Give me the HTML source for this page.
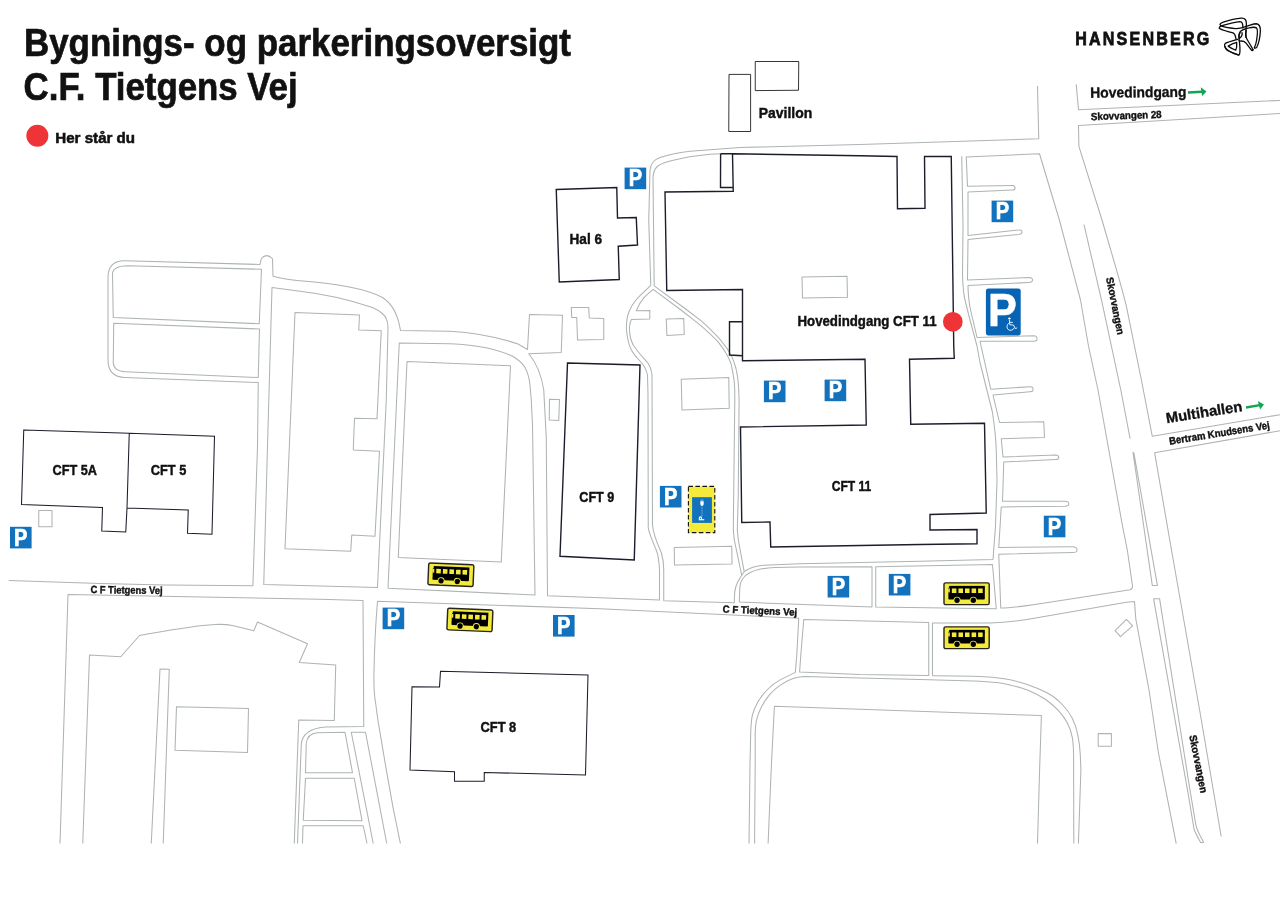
<!DOCTYPE html>
<html lang="da"><head><meta charset="utf-8"><title>Bygnings- og parkeringsoversigt C.F. Tietgens Vej</title>
<style>html,body{margin:0;padding:0;background:#fff}svg{display:block;will-change:transform}text{font-family:"Liberation Sans",Arial,sans-serif;font-weight:bold;fill:#111}text.w{fill:#fff}</style></head><body>
<svg width="1280" height="905" viewBox="0 0 1280 905">
<rect width="1280" height="905" fill="#fff"/>
<g fill="none" stroke="#aeb3b3" stroke-width="1.05" stroke-linejoin="round">
<path d="M8.75,580.4 L100,583.6 L165,585.1 L225,585.6 L252.9,585.7 L257.5,446 L258.25,382.5 L125,377.5 Q108,377 108,360 L108,277.5 Q108,260.5 125,260.75 L260,264.5 L261.25,258.75 Q266.5,252.5 272.5,258.75 L273,276.25 Q285,279.5 300,280.75 C330,283 365,288 382.5,297.5 C393,304 398,315 400.5,330.5 L450,331.25 C480,333 500,338 517.5,343.75 L527.5,349.5 L529.5,314.5 L562.5,315.25 L561.25,352.5 L528.75,353.75 C538,365 542,378 543.75,390 L546.25,437.5 L547.5,595.75 L659.5,600 L659.5,570 C659,560 657.5,553 656.25,550 C652,540 648.5,532 648.25,527.5 L648,395 L647.5,375 C646,368 643.5,365 641.25,362.5 C636,357 633,353 631.4,350 C629.5,346 628.5,343 627.9,339.5 C627,335 626.4,331 626.4,327.6 C626.5,323 626.8,320 627.4,316.7 C628.5,312 630,309 631.9,305.7 C634,302 637,298.5 639.8,295.8 L650.75,285.3 L648.75,220 L650,170 C651,162 655,159.5 660,157.5 C670,154 680,152.5 690,151.25 L740,147.5 L860,144.5 L1038.75,138.75 L1037.5,86"/>
<path d="M112.5,273.75 Q113,266 127.5,265.75 L261.5,269.25 L259.25,323.75 L113.25,317.5 Z"/>
<path d="M113.75,323.25 L259.5,329 L258.25,377.5 L125,371.75 Q113.5,371 113.25,362.5 Z"/>
<path d="M272,287.5 L300,291.25 C320,293.5 350,300 372.5,307.5 C380,311 385,315 386.25,318.75 Q388,322 388,327.5 L386.25,400 L377.5,587.5 L263.75,584.5 L267.5,446 Z"/>
<path d="M295,312.5 L359.5,315 L358.75,330 L381.25,330.75 L377,418.75 L354.5,418.25 L353.25,450 L379.5,451.25 L375,536.25 L351.75,535 L350.75,551.25 L285,548.75 Z"/>
<path d="M399.25,343 L450,343.75 C470,344.5 480,346.5 487.5,348 C500,351 507,353.5 512.5,356.25 C519,360 523,364 525,367.5 C528,373 529.5,380 530,385 L531.25,400 L532.5,425 L535,595 L388,588.25 L394.5,446 Z"/>
<path d="M407,361.5 L510.5,365.75 L501.25,562 L398.25,557.5 Z"/>
<path d="M571.25,307.5 L588.75,307.5 L589.25,318 L603.75,318.5 L603.75,339.5 L577.5,340 L576.75,317.5 L571.75,317.5 Z"/>
<path d="M549.5,399.25 L559.5,399.5 L558.75,420.5 L549.25,420 Z"/>
<path d="M38.75,510.5 L52,510.5 L52,526.75 L38.75,526.75 Z"/>
<path d="M60,843.5 L68,594.5 L320,599.25 L363,600.5 L363.75,726.5 L325,727 Q302,729 301.25,745 L297.5,843.5"/>
<path d="M82.75,843.5 L89.5,655 L120.75,656.75 L139.5,635.5 C165,631 190,626 215,624.5 Q225,624 232.5,625.5 L253.75,630.75 L257.5,622 L307.5,643.75 L299.25,662.5 L335.75,665 L334.25,720.5 L298.75,720 L294.25,843.5"/>
<path d="M151.25,843.5 L160,669 L169.25,669.25 L163.25,843.5"/>
<path d="M176.5,706.75 L248.5,708.5 L247.5,752.5 L175,750.25 Z"/>
<path d="M305.5,772.75 L306.25,744 Q307,733.5 317.5,732.75 L345,732.25 L352.5,772.75 Z"/>
<path d="M305.5,778.25 L354.25,778.25 L362,820.75 L303.25,820.25 Z"/>
<path d="M302.5,843.5 L303,825.75 L363.25,825.75 L367,843.5"/>
<path d="M373.25,843.5 L351.25,732.25 L365.5,732.25 L386.75,843.5"/>
<path d="M400.4,843.5 L393.2,808.4 L386,768.2 L380.2,733.7 C378.5,724 377,715 375.9,705 C374.5,698 373.8,690 373.9,676.2 C374.3,650 375.5,625 377.5,601.25 L600,608.75 L798.75,618.25 L796.8,655 L795.3,672.4 L780.1,679.9 C775.5,682.5 771.5,685.5 768,689 C764,693 761,697 758.2,701.2 C755.5,706 753.5,710.5 752.2,715.8 C751.2,721 750.9,727 750.7,732.8 L750,765 L749,843.5"/>
<path d="M653.2,289.3 C650,292 646.5,295 643.8,297.8 C641,301 638.5,305 636.3,310.7 L649.8,310.4 L649.8,319.1 L631.4,319.6 Q629.6,323 629.4,327.6 C629.4,332 630,336 630.9,339.5 C632,343.5 634,347 636.8,350 C640,354.5 644,358.5 647.5,362.5 C650,366 651.5,370 652,375 L652.5,525 C653,532 657,543 661.25,552.5 C663,558 663.75,565 663.75,570 L663.75,600.75 L734.3,602.8 C734.3,597 734.5,594 734.8,591.6 C735.5,587 736.5,584 737.8,581.7 L741.7,575.2 L734.3,540 L733.3,530 L734.2,450 L734.8,400 L734.7,387.5 C734.5,383 734,379 733.2,374.6 C732.5,370.5 731.8,366.5 730.7,362.7 C729.5,359.5 727.8,356 725.7,352.7 C724,349.5 721.5,346 718.8,342.8 C715.5,339 711.5,335.5 707.8,331.9 C704,328 699.5,324.5 694.9,320.9 L681,310 L653.2,289.3 Z"/>
<path d="M720.6,153.75 C700,154.5 690,156.5 680,158.75 C668,161 661,163.5 657.5,166.25 Q653.5,170 653,177.5 L654.2,285.8 L687,310 L699.9,319.9 C705,324 709,328 712.8,331.9 C716.5,335.5 720,339 722.7,342.8 C725.5,346 728,349.5 729.7,352.7 C731.8,356 733.2,359.5 734.2,362.7 C735.6,366.5 736.6,370.5 737.2,374.6 C738,379 738.4,383 738.6,387.5 L739.1,400 L738.25,496 L737.3,530 L738.3,540 L744.2,571.7"/>
<path d="M741.7,575.2 L744.2,571.7 C746,570 749,569 751.7,567.8 C755,566.5 760,565.8 763.6,565.3 L800,563.8 L920,561.25 L993,559.5 L995.5,526 L997,480 L996.25,450 C996,440 995,430 992.5,412.5 L980,362.5 L977,346 L970,320 L965,300 C964,296 963,290 962.5,275 L963,225 L961.75,156.25"/>
<path d="M739.3,602.1 L739.8,587.7 C740,584 741,581 742.7,578.7 C744.5,576 747,574 749.7,572.7 C753,571 756,570 759.6,569.3 C765,568.3 770,567.8 774.6,567.6 L800,567 L872,566.75 L872,607 Z"/>
<path d="M875.75,566.75 L992.5,564.5 L996.25,608.75 L875.75,607 Z"/>
<path d="M966.25,157 L1039.5,153.75 L1059.4,220 L1080.5,300 L1088.5,346 L1098,390 L1122.5,526 L1127.3,550 L1132.4,585 Q1133,589 1130.1,589.8 L1040,603.7 C1025,606 1012,608 1000.75,608 L998.75,554.25 L1072.5,552.5 Q1077.5,552.5 1077,550 Q1077,546.75 1072.5,546.75 L998.75,547.5 L1001.25,507 L1065,506.25 Q1069,506 1068.75,503.75 Q1068.75,501.25 1065,501.25 L1002.5,501.25 L1003.75,462 L1055.5,459.5 Q1059,459.5 1058.75,457.5 Q1058.75,455 1055.5,455 L1003,457 L1001.25,438.75 L1044.5,437.5 L1043.75,421.75 L999.5,422.5 L993,395 L1030,391.75 Q1033.5,391.5 1033,389.25 Q1033,386.5 1030,386.75 L990.75,389.25 L980,341.25 L1033.75,341.25 Q1037.5,341 1037,338.75 Q1037,335.75 1033.75,335.75 L977,337.5 L970,307.5 Q968,295 968,285.5 L1028.75,282.5 Q1032.5,282.5 1032.5,280 Q1032.5,277.5 1028.75,277.5 L967.5,280 L968,239.5 L1018.75,234.5 Q1022,234 1022,232 Q1022,229.5 1018.75,230 L968,235.5 L968,192 L1012.5,190 Q1015.5,190 1015,188 Q1015,185.5 1012.5,185.5 L967.5,186.25 Z"/>
<path d="M932.5,675.7 L932.5,623 L990,623 C1010,622.5 1025,620 1040,617.2 L1126.4,602.3 L1134.5,601.6 L1135.8,618.9 L1149,690 L1158.3,752 L1176.2,843.6"/>
<path d="M932.5,675.7 L973.4,676.3 L980,676.4 C990,676.8 997,677.6 1004.3,678.8 C1013,680.3 1021,682.3 1028.6,684.9 C1035,687 1041,689.7 1046.9,692.8 C1053,696 1058,700 1062.7,705 C1066.5,709 1069.8,713.5 1072.4,718.4 C1075,723.5 1076.7,729 1077.9,735.4 C1079.2,742 1079.9,748 1080.3,754.8 L1080.9,770 L1078.4,843.6"/>
<path d="M754.6,843.6 L755.2,765 L755.2,732.8 C755.3,728 755.7,724 756.4,720.7 C757.5,716 759,711.5 761.3,707.3 C763.5,703 766,699 769.2,695.1 C772.5,691.5 776,688 780.1,685.4 C784,682.5 788,680.3 792.3,678.7 C796,677.3 800,676.7 804.4,676.5 L860,677.9 L920,679.5 L973.4,681 L980,681.3 C990,681.8 997,682.5 1004.3,683.7 C1013,685.3 1021,687.6 1028.6,690.4 C1035,693 1040.5,696 1045.7,699.5 C1050.5,703 1055,706.8 1059,711.1 C1062.5,715 1065.3,719 1067.5,723.2 C1070,728 1071.5,733 1072.4,737.8 C1073.2,743 1073.5,749 1073.6,754.8 L1073.8,843.6"/>
<path d="M768.1,843.6 L771.4,765 L774.4,706.3 L860,709.3 L1041.4,715.6 L1039.6,770 L1037.5,843.6"/>
<path d="M803.75,619.5 L928.75,622.5 L928.75,675.5 L860,674.5 L799.6,672 L800.8,655 Z"/>
<path d="M1076.2,84.4 L1078.5,109.8 L1280,100.4"/>
<path d="M1280,113.5 L1078.5,125.4 L1078.9,146.4 L1102,220 C1112,255 1120,280 1126.4,306.4 L1141.4,380 L1152.3,436.3 L1280,414.7"/>
<path d="M1084,224.7 L1101.7,300.8 L1120.8,390 L1130.1,438.6"/>
<path d="M1280,430.7 L1154.6,452.7 L1171.5,550 L1199.6,710 L1221.2,836.5"/>
<path d="M1133,452.3 L1152.3,585.4 L1157.4,585.4 L1133.9,453.2 Z"/>
<path d="M1203.8,842.5 L1200.6,842.5 C1197,836 1195,832 1194,829 L1188.4,795.2 L1153.6,598.8 L1159.6,598.8 L1190.2,791.4 L1195.9,825.2 C1197,830 1200,836 1203.8,842.5"/>
<path d="M1115.1,630.7 L1126.4,619.4 L1132.6,625.8 L1120.4,636.7 Z"/>
<path d="M1098.2,733.6 L1111.4,733.6 L1111.4,746.3 L1098.2,746.3 Z"/>
<path d="M802,277 L847,276.25 L847.5,297.2 L802.5,298.1 Z"/>
<path d="M666.25,319 L683.75,318.4 L684.25,334.5 L666.9,335.5 Z"/>
<path d="M681.25,379.25 L728.75,377.5 L729.25,408.25 L682,410 Z"/>
<path d="M674.25,547.5 L731.75,546.3 L732,564 L674.5,565 Z"/>
</g>
<g fill="none" stroke="#1b1d2b" stroke-width="1.05" stroke-linejoin="miter">
<path d="M23.75,430 L129.25,433.25 L214.5,436.25 L212,534.25 L187.5,533.25 L188.25,510 L127,508 L125.75,532 L101.75,531 L102.5,507.5 L21.5,504.5 Z M129.25,433.25 L127,508"/>
<path d="M556.25,189.5 L616.75,187.5 L617.5,218 L636.25,217.5 L637.5,245 L618.25,246.25 L619.25,279.5 L559.25,282 Z" stroke-width="1.4"/>
<path d="M567.5,363 L640,365 L634.25,560 L560,556.25 Z" stroke-width="1.4"/>
<path d="M440.5,671.25 L588,675 L585.5,775 L484.25,772.5 L484.25,781.25 L454.5,781.25 L454.5,771.75 L410,770 L412,686.75 L439.5,687 Z"/>
<path d="M729,74.4 L750.6,74.4 L750.6,131.5 L728.75,131.5 Z" stroke="#2b2b2b" stroke-width="0.95"/>
<path d="M755.25,61.5 L798.75,61.5 L798.5,90.25 L755.25,90.6 Z" stroke="#2b2b2b" stroke-width="0.95"/>
<path d="M720.6,153.75 L732.5,153.75 L860,155.75 L897,156.5 L897.5,208.75 L925,208.25 L924.5,156.5 L951.25,156.5 L953.75,346 L954.25,358.25 L909.5,359.25 L910.75,424.25 L984.5,423.25 L986.25,513 L930,514.5 L930,530 L977,529.5 L977,543.75 L920,544.5 L770.75,547 L770,522 L741.75,522.5 L740.5,427 L866.25,425 L865,359.25 L742.5,360.75 L742.5,289.5 L666.75,290.5 L665,192 L733.25,191.25 L732.5,153.75 M720.6,153.75 L720.5,187.5 L732.5,187.5 M742.5,321.5 L729.5,321.75 L729.5,355 L742.5,355.75" stroke-width="1.4"/>
</g>
<g>
<g transform="translate(10,526.8)"><rect width="21.6" height="21.6" fill="#1272bd"/><text x="4.05" y="18.8" font-size="23.4" textLength="13.4" lengthAdjust="spacingAndGlyphs" class="w" stroke="#fff" stroke-width="0.7">P</text></g>
<g transform="translate(382.6,607.6)"><rect width="21.6" height="21.6" fill="#1272bd"/><text x="4.05" y="18.8" font-size="23.4" textLength="13.4" lengthAdjust="spacingAndGlyphs" class="w" stroke="#fff" stroke-width="0.7">P</text></g>
<g transform="translate(553,615)"><rect width="21.6" height="21.6" fill="#1272bd"/><text x="4.05" y="18.8" font-size="23.4" textLength="13.4" lengthAdjust="spacingAndGlyphs" class="w" stroke="#fff" stroke-width="0.7">P</text></g>
<g transform="translate(624.6,167.6)"><rect width="21.6" height="21.6" fill="#1272bd"/><text x="4.05" y="18.8" font-size="23.4" textLength="13.4" lengthAdjust="spacingAndGlyphs" class="w" stroke="#fff" stroke-width="0.7">P</text></g>
<g transform="translate(659.9,485.9)"><rect width="21.6" height="21.6" fill="#1272bd"/><text x="4.05" y="18.8" font-size="23.4" textLength="13.4" lengthAdjust="spacingAndGlyphs" class="w" stroke="#fff" stroke-width="0.7">P</text></g>
<g transform="translate(763.9,380.6)"><rect width="21.6" height="21.6" fill="#1272bd"/><text x="4.05" y="18.8" font-size="23.4" textLength="13.4" lengthAdjust="spacingAndGlyphs" class="w" stroke="#fff" stroke-width="0.7">P</text></g>
<g transform="translate(824.6,379.6)"><rect width="21.6" height="21.6" fill="#1272bd"/><text x="4.05" y="18.8" font-size="23.4" textLength="13.4" lengthAdjust="spacingAndGlyphs" class="w" stroke="#fff" stroke-width="0.7">P</text></g>
<g transform="translate(827.6,575.9)"><rect width="21.6" height="21.6" fill="#1272bd"/><text x="4.05" y="18.8" font-size="23.4" textLength="13.4" lengthAdjust="spacingAndGlyphs" class="w" stroke="#fff" stroke-width="0.7">P</text></g>
<g transform="translate(888.8,573.9)"><rect width="21.6" height="21.6" fill="#1272bd"/><text x="4.05" y="18.8" font-size="23.4" textLength="13.4" lengthAdjust="spacingAndGlyphs" class="w" stroke="#fff" stroke-width="0.7">P</text></g>
<g transform="translate(991.6,200.6)"><rect width="21.6" height="21.6" fill="#1272bd"/><text x="4.05" y="18.8" font-size="23.4" textLength="13.4" lengthAdjust="spacingAndGlyphs" class="w" stroke="#fff" stroke-width="0.7">P</text></g>
<g transform="translate(1043.8,515.7)"><rect width="21.6" height="21.6" fill="#1272bd"/><text x="4.05" y="18.8" font-size="23.4" textLength="13.4" lengthAdjust="spacingAndGlyphs" class="w" stroke="#fff" stroke-width="0.7">P</text></g>
</g><g>
<g transform="translate(450.9,574.7) rotate(2.4) scale(1.018,1.036) translate(-22.7,-11.0)"><rect x="0.5" y="0.5" width="44.4" height="21" rx="1.6" fill="#f3ea3c" stroke="#26261c" stroke-width="1.4"/><rect x="5.6" y="3.4" width="35" height="2.4" fill="#000"/><rect x="4.8" y="5" width="35.8" height="11.6" rx="0.8" fill="#000"/><rect x="8.2" y="5.9" width="4.5" height="4.4" fill="#f3ea3c"/><rect x="14.7" y="5.9" width="4.5" height="4.4" fill="#f3ea3c"/><rect x="21.1" y="5.9" width="4.5" height="4.4" fill="#f3ea3c"/><rect x="27.6" y="5.9" width="4.5" height="4.4" fill="#f3ea3c"/><rect x="34.0" y="5.9" width="4.5" height="4.4" fill="#f3ea3c"/><rect x="4.6" y="5.9" width="1.6" height="3.8" fill="#f3ea3c"/><circle cx="13.3" cy="17.3" r="3.5" fill="#f3ea3c"/><circle cx="13.3" cy="17.3" r="2.6" fill="#000"/><circle cx="29.3" cy="17.3" r="3.5" fill="#f3ea3c"/><circle cx="29.3" cy="17.3" r="2.6" fill="#000"/></g>
<g transform="translate(469.9,619.9) rotate(2.4) scale(1.018,1.036) translate(-22.7,-11.0)"><rect x="0.5" y="0.5" width="44.4" height="21" rx="1.6" fill="#f3ea3c" stroke="#26261c" stroke-width="1.4"/><rect x="5.6" y="3.4" width="35" height="2.4" fill="#000"/><rect x="4.8" y="5" width="35.8" height="11.6" rx="0.8" fill="#000"/><rect x="8.2" y="5.9" width="4.5" height="4.4" fill="#f3ea3c"/><rect x="14.7" y="5.9" width="4.5" height="4.4" fill="#f3ea3c"/><rect x="21.1" y="5.9" width="4.5" height="4.4" fill="#f3ea3c"/><rect x="27.6" y="5.9" width="4.5" height="4.4" fill="#f3ea3c"/><rect x="34.0" y="5.9" width="4.5" height="4.4" fill="#f3ea3c"/><rect x="4.6" y="5.9" width="1.6" height="3.8" fill="#f3ea3c"/><circle cx="13.3" cy="17.3" r="3.5" fill="#f3ea3c"/><circle cx="13.3" cy="17.3" r="2.6" fill="#000"/><circle cx="29.3" cy="17.3" r="3.5" fill="#f3ea3c"/><circle cx="29.3" cy="17.3" r="2.6" fill="#000"/></g>
<g transform="translate(966.6,593.75) rotate(0) scale(1.018,1.036) translate(-22.7,-11.0)"><rect x="0.5" y="0.5" width="44.4" height="21" rx="1.6" fill="#f3ea3c" stroke="#26261c" stroke-width="1.4"/><rect x="5.6" y="3.4" width="35" height="2.4" fill="#000"/><rect x="4.8" y="5" width="35.8" height="11.6" rx="0.8" fill="#000"/><rect x="8.2" y="5.9" width="4.5" height="4.4" fill="#f3ea3c"/><rect x="14.7" y="5.9" width="4.5" height="4.4" fill="#f3ea3c"/><rect x="21.1" y="5.9" width="4.5" height="4.4" fill="#f3ea3c"/><rect x="27.6" y="5.9" width="4.5" height="4.4" fill="#f3ea3c"/><rect x="34.0" y="5.9" width="4.5" height="4.4" fill="#f3ea3c"/><rect x="4.6" y="5.9" width="1.6" height="3.8" fill="#f3ea3c"/><circle cx="13.3" cy="17.3" r="3.5" fill="#f3ea3c"/><circle cx="13.3" cy="17.3" r="2.6" fill="#000"/><circle cx="29.3" cy="17.3" r="3.5" fill="#f3ea3c"/><circle cx="29.3" cy="17.3" r="2.6" fill="#000"/></g>
<g transform="translate(966.6,637.75) rotate(0) scale(1.018,1.036) translate(-22.7,-11.0)"><rect x="0.5" y="0.5" width="44.4" height="21" rx="1.6" fill="#f3ea3c" stroke="#26261c" stroke-width="1.4"/><rect x="5.6" y="3.4" width="35" height="2.4" fill="#000"/><rect x="4.8" y="5" width="35.8" height="11.6" rx="0.8" fill="#000"/><rect x="8.2" y="5.9" width="4.5" height="4.4" fill="#f3ea3c"/><rect x="14.7" y="5.9" width="4.5" height="4.4" fill="#f3ea3c"/><rect x="21.1" y="5.9" width="4.5" height="4.4" fill="#f3ea3c"/><rect x="27.6" y="5.9" width="4.5" height="4.4" fill="#f3ea3c"/><rect x="34.0" y="5.9" width="4.5" height="4.4" fill="#f3ea3c"/><rect x="4.6" y="5.9" width="1.6" height="3.8" fill="#f3ea3c"/><circle cx="13.3" cy="17.3" r="3.5" fill="#f3ea3c"/><circle cx="13.3" cy="17.3" r="2.6" fill="#000"/><circle cx="29.3" cy="17.3" r="3.5" fill="#f3ea3c"/><circle cx="29.3" cy="17.3" r="2.6" fill="#000"/></g>
</g>
<g><rect x="688.4" y="486.4" width="26.4" height="46.2" fill="#f3ea3c" stroke="#111" stroke-width="1.1" stroke-dasharray="4.6 2.4"/><rect x="692.1" y="497.2" width="19.8" height="25.7" fill="#1272bd"/><text transform="translate(704.4,520.6) rotate(-90)" font-size="6.4" class="w" stroke="#fff" stroke-width="0.3">P</text><path d="M702,516 L702,506" stroke="#fff" stroke-width="0.5" stroke-dasharray="1 0.7" fill="none"/><path d="M700.6,501.5 h2.8 v2.6 q0,1.6 -1.4,1.6 q-1.4,0 -1.4,-1.6 z M701.2,499.4 v2 M702.8,499.4 v2" fill="#fff" stroke="#fff" stroke-width="0.5"/></g>
<g><rect x="985.9" y="288.6" width="34.8" height="46.8" rx="2.6" fill="#0763b4"/><text x="988.1" y="326.1" font-size="46.7" textLength="28.8" lengthAdjust="spacingAndGlyphs" class="w" stroke="#fff" stroke-width="0.6">P</text><g fill="none" stroke="#fff" stroke-width="0.9" stroke-linecap="round" stroke-linejoin="round"><circle cx="1009.3" cy="318.5" r="0.7" fill="#fff"/><path d="M1009.4,320 L1009.8,324.8 L1013.4,325 L1015.4,328.6 L1016.8,328"/><path d="M1009.7,322.3 L1012.4,322.4"/><path d="M1008.6,323.4 A3.8,3.8 0 1 0 1014.2,328"/></g></g>
<circle cx="37.35" cy="135.75" r="11" fill="#ee3436"/>
<circle cx="952.8" cy="321.8" r="9.85" fill="#ee3436"/>
<g transform="translate(1188,92.45) rotate(-3.25)"><path d="M0,0 L14.3,0" stroke="#12a650" stroke-width="2.5" fill="none"/><path d="M13.0,-4.4 L18.5,0 L13.9,4.4 Z" fill="#12a650"/></g>
<g transform="translate(1246,407.4) rotate(-9.31)"><path d="M0,0 L14.0,0" stroke="#12a650" stroke-width="2.5" fill="none"/><path d="M12.7,-4.4 L18.2,0 L13.6,4.4 Z" fill="#12a650"/></g>
<g transform="translate(1216,14) scale(0.04864)" fill="none" stroke="#0c0c0c" stroke-width="27" stroke-linecap="round" stroke-linejoin="round">
<path d="M100,238 C65,220 85,190 150,168 C250,135 400,95 520,85 C600,78 625,130 625,200 C625,270 600,400 620,480 C640,540 720,640 760,735"/>
<path d="M100,238 C140,258 250,285 400,300 C500,305 600,265 700,230 C760,210 800,200 830,200 C900,205 915,280 912,360 C905,480 880,600 840,680 C825,700 805,705 790,700"/>
<path d="M125,240 C250,200 400,160 490,155 C540,155 555,200 552,285"/>
<path d="M110,245 C80,260 60,275 65,292 C90,330 260,360 350,390 C400,410 400,470 412,515"/>
<path d="M445,520 C350,545 230,580 190,605 C160,630 180,700 230,745 C300,790 400,820 470,842 C500,840 495,700 485,600 C480,570 478,550 475,540"/>
<path d="M185,670 C200,740 330,800 468,845"/>
<path d="M250,660 C300,630 370,600 425,585 C430,640 430,700 405,745 C350,720 290,690 250,660"/>
<path d="M478,540 C465,480 465,420 490,375 C520,335 600,300 680,285 C740,272 800,265 830,285 C860,310 855,420 835,540 C825,600 805,660 790,690"/>
<path d="M620,335 C610,390 605,440 615,480"/>
<path d="M490,558 C545,550 580,560 610,590 C650,640 700,710 735,750 C750,755 765,745 762,735"/>
<path d="M495,385 C470,420 468,470 480,500 C515,480 545,430 535,385"/>
</g>
<g>
<text transform="translate(24.0,55.6)" font-size="38.6" textLength="547" lengthAdjust="spacingAndGlyphs" stroke="#111" stroke-width="0.7">Bygnings- og parkeringsoversigt</text>
<text transform="translate(23.6,99.6)" font-size="38.6" textLength="274" lengthAdjust="spacingAndGlyphs" stroke="#111" stroke-width="0.7">C.F. Tietgens Vej</text>
<text transform="translate(55.3,142.8)" font-size="15.0" textLength="79.8" lengthAdjust="spacingAndGlyphs" stroke="#111" stroke-width="0.55">Her står du</text>
<text transform="translate(569.5,244.0)" font-size="15" textLength="32.5" lengthAdjust="spacingAndGlyphs" stroke="#111" stroke-width="0.45">Hal 6</text>
<text transform="translate(758.8,118.1)" font-size="15" textLength="53.5" lengthAdjust="spacingAndGlyphs" stroke="#111" stroke-width="0.45">Pavillon</text>
<text transform="translate(797.5,326.3)" font-size="14.8" textLength="139" lengthAdjust="spacingAndGlyphs" stroke="#111" stroke-width="0.45">Hovedindgang CFT 11</text>
<text transform="translate(831.8,491.0)" font-size="15" textLength="39.5" lengthAdjust="spacingAndGlyphs" stroke="#111" stroke-width="0.45">CFT 11</text>
<text transform="translate(579.3,502.0)" font-size="15" textLength="35" lengthAdjust="spacingAndGlyphs" stroke="#111" stroke-width="0.45">CFT 9</text>
<text transform="translate(480.5,732.0)" font-size="15" textLength="35.7" lengthAdjust="spacingAndGlyphs" stroke="#111" stroke-width="0.45">CFT 8</text>
<text transform="translate(52.5,474.7)" font-size="15" textLength="44.5" lengthAdjust="spacingAndGlyphs" stroke="#111" stroke-width="0.45">CFT 5A</text>
<text transform="translate(150.8,474.7)" font-size="15" textLength="35.5" lengthAdjust="spacingAndGlyphs" stroke="#111" stroke-width="0.45">CFT 5</text>
<text transform="translate(90.4,593.1) rotate(0.7)" font-size="10.5" textLength="72.2" lengthAdjust="spacingAndGlyphs" stroke="#111" stroke-width="0.4">C F Tietgens Vej</text>
<text transform="translate(722.6,612.5) rotate(2.5)" font-size="10.3" textLength="74.5" lengthAdjust="spacingAndGlyphs" stroke="#111" stroke-width="0.4">C F Tietgens Vej</text>
<text transform="translate(1090.3,97.8) rotate(-0.6)" font-size="14.8" textLength="96.2" lengthAdjust="spacingAndGlyphs" stroke="#111" stroke-width="0.35">Hovedindgang</text>
<text transform="translate(1091,120.2) rotate(-1.9)" font-size="10.4" textLength="70.8" lengthAdjust="spacingAndGlyphs" stroke="#111" stroke-width="0.4">Skovvangen 28</text>
<text transform="translate(1166.8,423.2) rotate(-9.1)" font-size="14.6" textLength="77" lengthAdjust="spacingAndGlyphs" stroke="#111" stroke-width="0.35">Multihallen</text>
<text transform="translate(1169.7,444.7) rotate(-9.2)" font-size="10.4" textLength="101.6" lengthAdjust="spacingAndGlyphs" stroke="#111" stroke-width="0.4">Bertram Knudsens Vej</text>
<text transform="translate(1106.0,278.0) rotate(78.6)" font-size="10.4" textLength="58.4" lengthAdjust="spacingAndGlyphs" stroke="#111" stroke-width="0.4">Skovvangen</text>
<text transform="translate(1189.2,735.8) rotate(78.8)" font-size="10.4" textLength="58.8" lengthAdjust="spacingAndGlyphs" stroke="#111" stroke-width="0.4">Skovvangen</text>
<text transform="translate(1075.2,45.2) scale(0.86,1)" font-size="18.7" textLength="155.9" lengthAdjust="spacing" stroke="#111" stroke-width="0.8">HANSENBERG</text>
</g>
</svg></body></html>
